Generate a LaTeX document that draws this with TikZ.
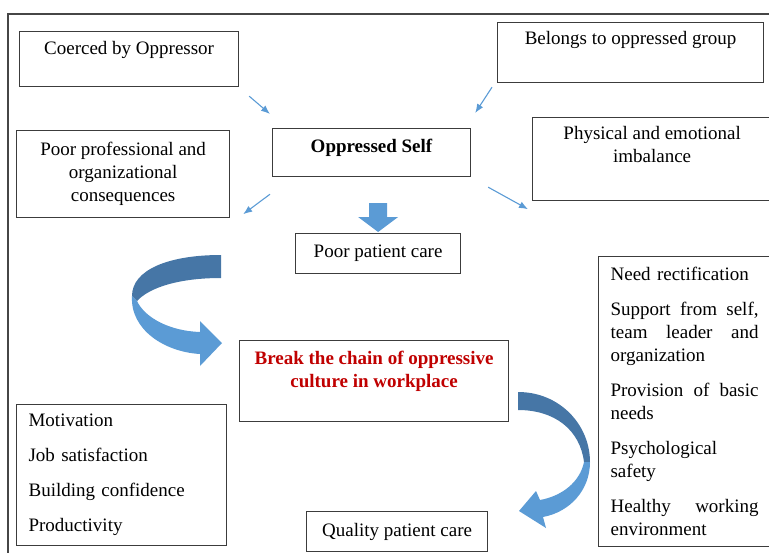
\documentclass[tikz,border=0pt]{standalone}
\usepackage{fontspec}
\setmainfont{Liberation Serif}
\usepackage{tikz}
\usetikzlibrary{positioning,arrows.meta}
\definecolor{framegrey}{RGB}{70, 70, 70}
\definecolor{boxgrey}{RGB}{60, 60, 60}
\definecolor{arrowblue}{RGB}{91, 155, 213}
\definecolor{arrowdark}{RGB}{70, 118, 166}
\definecolor{chainred}{RGB}{192, 0, 0}
\setlength{\parindent}{0pt}
\tikzstyle{box} = [
  draw=boxgrey,
  line width=1.2pt,
  rectangle,
  anchor=north west,
  inner sep=0pt,
]
\tikzstyle{boxtext} = [inner sep=0pt]
\tikzstyle{thinarrow} = [
  draw=arrowblue,
  line width=1.1pt,
  -{Latex[length=9pt,width=7pt]},
]

\begin{document}
\begin{tikzpicture}[x=1pt, y=-1pt, font=\fontsize{19}{23}\selectfont]
            \useasboundingbox (0,0) rectangle (769,552);
            \clip (0,0) rectangle (769,552);

            % Frame
            \draw[framegrey, line width=1.5pt] (8,600) -- (8,14) -- (800,14);

            % Top row
            \node[box, minimum width=219pt, minimum height=55pt] (coerced) at (19,31) {};
            \node[boxtext, below=10pt of coerced.north] (coercedtext) {Coerced by Oppressor};
            \node[box, minimum width=266pt, minimum height=60pt] (belongs) at (497,22) {};
            \node[boxtext, below=9pt of belongs.north] (belongstext) {Belongs to oppressed group};

            % Middle row
            \node[box, minimum width=198pt, minimum height=48pt] (self) at (272,128) {};
            \node[boxtext, below=11pt of self.north] (selftext) {\textbf{Oppressed Self}};
            \node[box, minimum width=239pt, minimum height=83pt] (physical) at (532,117) {};
            \node[boxtext, align=center, below=9pt of physical.north] (physicaltext)
                {Physical and emotional\\imbalance};
            \node[box, minimum width=213pt, minimum height=87pt, align=center] (poorprof) at (16,130)
                {Poor professional and\\organizational\\consequences};
            \node[box, minimum width=165pt, minimum height=40pt] (poorcare) at (295,233) {Poor patient care};

            % Break the chain
            \node[box, minimum width=269pt, minimum height=81pt] (break) at (239,340) {};
            \node[boxtext, align=center, text=chainred, below=11pt of break.north,
                font=\fontsize{19}{23}\selectfont\bfseries] (breaktext)
                {Break the chain of oppressive\\culture in workplace};

            % Lists
            \node[box, text width=148pt, inner xsep=12pt, minimum height=290pt, align=left] (needs) at (598,256)
                {Need rectification\\[12pt]
                 Support\hfill from\hfill self,\\team\hfill leader\hfill and\\organization\\[12pt]
                 Provision\hfill of\hfill basic\\needs\\[12pt]
                 Psychological\\safety\\[12pt]
                 Healthy\hfill working\\environment};
            \node[box, text width=186pt, inner xsep=12pt, minimum height=141pt, align=left] (gains) at (16,404)
                {Motivation\\[12pt]Job satisfaction\\[12pt]Building confidence\\[12pt]Productivity};
            \node[box, minimum width=181pt, minimum height=40pt] (quality) at (306,511) {Quality patient care};

            % Thin arrows round the oppressed self
            \draw[thinarrow] ([shift={(10,9)}]coerced.south east) -- ([shift={(-2,-14)}]self.north west);
            \draw[thinarrow] ([shift={(-5,4)}]belongs.south west) -- ([shift={(4,-15)}]self.north east);
            \draw[thinarrow] ([shift={(-2,17)}]self.south west) -- ([shift={(13,-4)}]poorprof.south east);
            \draw[thinarrow] ([shift={(17,10)}]self.south east) -- ([shift={(-4,8)}]physical.south west);

            % Block arrow down
            \coordinate (downtip) at ([yshift=1pt]poorcare.north);
            \fill[arrowblue] (downtip) -- ++(-20,-15) -- ++(11,0) -- ++(0,-14) -- ++(18,0)
                -- ++(0,14) -- ++(11,0) -- cycle;

            % Left turning arrow
            \fill[arrowdark] (221,255) .. controls (168,255) and (132,270) .. (132,296)
                -- (137,301) .. controls (150,287) and (180,278) .. (221,278) -- cycle;
            \fill[arrowblue] (132,296) .. controls (130,330) and (165,352) .. (200,354)
                -- (200,366) -- (222,343) -- (200,321) -- (200,332)
                .. controls (170,331) and (145,318) .. (137,301) -- cycle;

            % Right turning arrow
            \fill[arrowdark] (518,392) .. controls (560,392) and (590,425) .. (590,462)
                -- (584,462) .. controls (580,430) and (555,410) .. (518,410) -- cycle;
            \fill[arrowblue] (590,462) .. controls (590,490) and (570,512) .. (543,517)
                -- (546,528) -- (519,511) -- (536,491) -- (540,500)
                .. controls (562,496) and (580,482) .. (584,462) -- cycle;
          \end{tikzpicture}
\end{document}
